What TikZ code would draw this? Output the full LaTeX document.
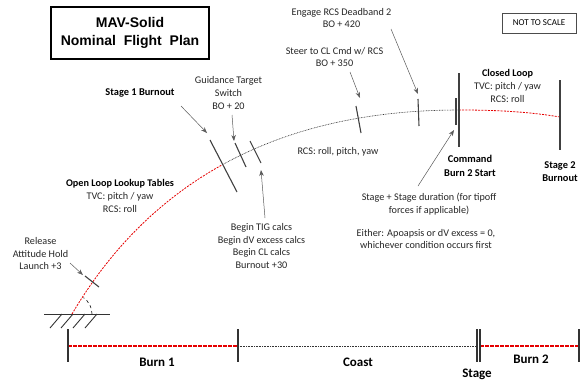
\documentclass[tikz,border=0pt]{standalone}
\usepackage{fontspec}
\setmainfont{Carlito}
\newfontfamily\titlefont{Liberation Sans}
\usetikzlibrary{arrows.meta}

\tikzset{
  lbl/.style={font=\fontsize{10.2}{12.6}\selectfont, text=black!85, align=center, inner sep=0pt},
  bold lbl/.style={lbl, font=\fontsize{10.4}{13.4}\selectfont\bfseries, text=black},
  phase/.style={font=\fontsize{13}{15}\selectfont\bfseries, inner sep=0pt},
  tickline/.style={line width=1.1pt, black!75},
  callout/.style={-{Stealth[length=6pt,width=4.5pt]}, line width=0.5pt, black!65},
  burn/.style={red!90!black, dash pattern=on 2pt off 1.2pt, line width=0.8pt},
  coast/.style={black!80, dash pattern=on 0.8pt off 0.8pt, line width=0.6pt},
}

\begin{document}
\begin{tikzpicture}[x=1pt, y=-1pt]
    \useasboundingbox (0,0) rectangle (581,383);

    % title and scale note
    \node[draw, line width=1.3pt, minimum width=158pt, minimum height=52pt, align=center,
          font=\titlefont\bfseries\fontsize{14}{18}\selectfont] (title) at (130,33)
        {MAV-Solid\\Nominal~ Flight~ Plan};
    \node[draw, black!70, line width=0.6pt, minimum width=74pt, minimum height=20pt, inner sep=0pt,
          text=black, font=\fontsize{9}{10}\selectfont] (scale) at (539,23) {NOT TO SCALE};

    % ground at the launch point
    \draw[line width=0.9pt, black!80] (44,314) -- (110,314);
    \foreach \x in {62,73,85,97}
        \draw[line width=0.9pt, black!80] (\x,314) -- ++(-12,14);
    \draw[dashed, line width=0.6pt] (92,314) arc[start angle=0, end angle=-55, radius=20];

    % trajectory: red while burning, dotted while coasting
    \begin{scope}
        \clip (0,0) rectangle (223,383);
        \draw[burn] (72,314) .. controls (160,165) and (300,110) .. (459,110);
    \end{scope}
    \begin{scope}
        \clip (223,0) rectangle (459,383);
        \draw[coast] (72,314) .. controls (160,165) and (300,110) .. (459,110);
    \end{scope}
    \draw[burn] (459,110) .. controls (500,110) and (530,112) .. (560,117);

    % event ticks along the trajectory
    \draw[tickline] (85,276) -- (99,287);
    \draw[tickline] (210,140) -- (237,192);
    \draw[tickline] (235,143) -- (246,167);
    \draw[tickline] (250,141) -- (261,163);
    \draw[tickline] (356,106) -- (361,133);
    \draw[tickline] (418,99) -- (419,126);
    \draw[tickline] (456,98) -- (456,125);
    \draw[tickline] (459,73) -- (459,147);
    \draw[tickline] (560,80) -- (560,150);

    % labels
    \node[bold lbl] (s1bo) at (140,93) {Stage 1 Burnout};
    \node[lbl] (gts) at (228.5,93) {Guidance Target\\Switch\\BO + 20};
    \node[lbl] (steer) at (334.5,57) {Steer to CL Cmd w/ RCS\\BO + 350};
    \node[lbl] (engage) at (341.5,18) {Engage RCS Deadband 2\\BO + 420};
    \node[lbl] (closed) at (507.5,86) {\textbf{\color{black}Closed Loop}\\TVC: pitch / yaw\\RCS: roll};
    \node[lbl] (openloop) at (120,196) {\textbf{\color{black}Open Loop Lookup Tables}\\TVC: pitch / yaw\\RCS: roll};
    \node[lbl] (release) at (40.5,253.5) {Release\\Attitude Hold\\Launch +3};
    \node[lbl] (tig) at (261.5,246) {Begin TIG calcs\\Begin dV excess calcs\\Begin CL calcs\\Burnout +30};
    \node[lbl] (rcs) at (338,152) {RCS: roll, pitch, yaw};
    \node[bold lbl] (cmd) at (470,166) {Command\\Burn 2 Start};
    \node[bold lbl] (s2bo) at (560,171.5) {Stage 2\\Burnout};
    \node[lbl] (stagedur) at (429,204) {Stage + Stage duration (for tipoff\\forces if applicable)};
    \node[lbl] (either) at (426,239) {Either: Apoapsis or dV excess = 0,\\whichever condition occurs first};

    % callout arrows
    \coordinate (s1bo from) at (181,106);  \coordinate (s1bo to) at (207,133);
    \coordinate (gts from) at (232,115);   \coordinate (gts to) at (234,141);
    \coordinate (tig from) at (265,218);   \coordinate (tig to) at (261,170);
    \coordinate (steer from) at (350,72);  \coordinate (steer to) at (360,98);
    \coordinate (engage from) at (391,29); \coordinate (engage to) at (418,94);
    \coordinate (cmd from) at (418,186);   \coordinate (cmd to) at (454,130);
    \coordinate (release from) at (70,263); \coordinate (release to) at (83,275);
    \foreach \c in {s1bo,gts,tig,steer,engage,cmd,release}
        \draw[callout] (\c\space from) -- (\c\space to);

    % mission phases
    \draw[line width=1.4pt, red!90!black, dash pattern=on 3.5pt off 1.5pt] (68,346) -- (238,346);
    \draw[coast] (238,346) -- (477,346);
    \draw[line width=1.4pt, red!90!black, dash pattern=on 3.5pt off 1.5pt] (480,346) -- (579,346);
    \foreach \x in {68,238,477,480,579}
        \draw[line width=1.1pt, black!80] (\x,329) -- (\x,362);

    \node[phase] (burn1) at (157,362) {Burn 1};
    \node[phase] (coastlbl) at (358,362) {Coast};
    \node[phase] (stage) at (477,374) {Stage};
    \node[phase] (burn2) at (531,359) {Burn 2};
\end{tikzpicture}
\end{document}
